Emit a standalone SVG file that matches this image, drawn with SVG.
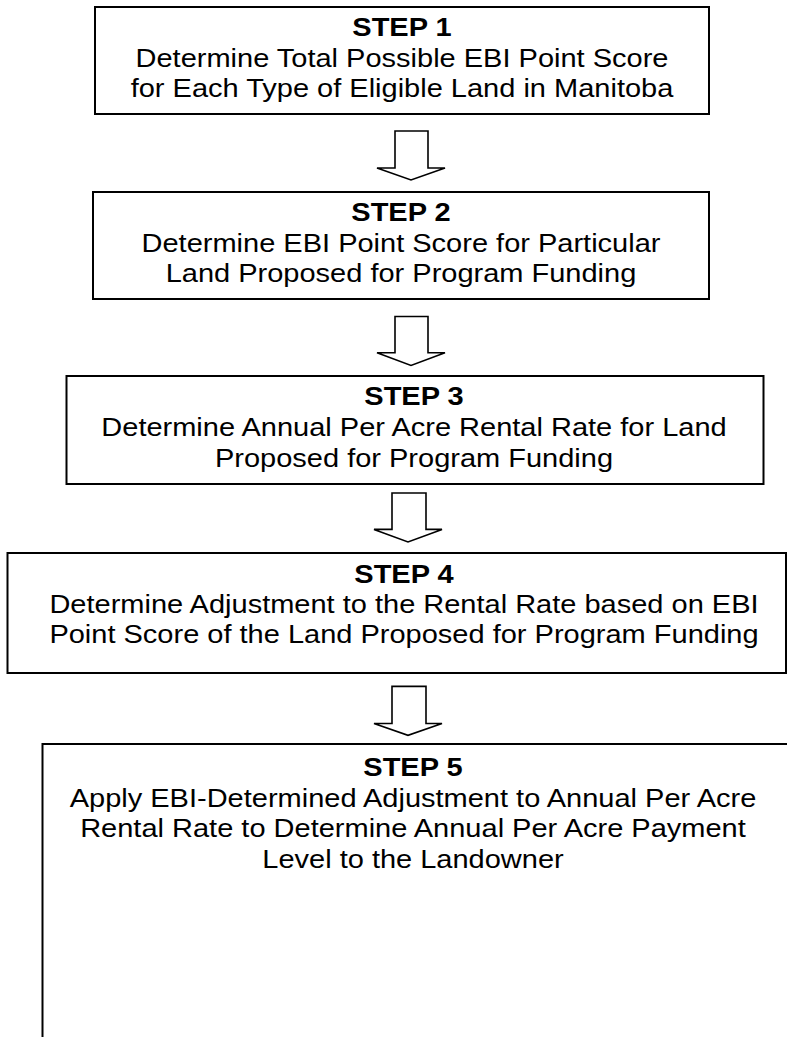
<svg xmlns="http://www.w3.org/2000/svg" width="787" height="1037" viewBox="0 0 787 1037">
<style>
.box{fill:#ffffff;stroke:#000000;stroke-width:2}
.arr{fill:#ffffff;stroke:#000000;stroke-width:1.6;stroke-linejoin:miter}
text{font-family:"Liberation Sans",Arial,sans-serif;font-size:29px;fill:#000000;text-anchor:middle}
.h{font-weight:bold}
</style>
<rect x="0" y="0" width="787" height="1037" fill="#ffffff"/>
<g id="connectors">
<polygon class="arr" points="395,131 428,131 428,168 445,168 411,180 377,168 395,168"/>
<polygon class="arr" points="395,316.5 428,316.5 428,352.8 445,352.8 411,365.5 377,352.8 395,352.8"/>
<polygon class="arr" points="392,493 426,493 426,529.4 442,529.4 408,542 374,529.4 392,529.4"/>
<polygon class="arr" points="392,686.4 426,686.4 426,723.5 442,723.5 408,735.3 374,723.5 392,723.5"/>
</g>
<g id="step1">
<rect class="box" x="95" y="7" width="614" height="107"/>
<g transform="translate(0 66.7) scale(1 0.92) translate(0 -80.67)">
<text class="h" x="402" y="47">STEP 1</text>
<text x="402" y="81">Determine Total Possible EBI Point Score</text>
<text x="402" y="114">for Each Type of Eligible Land in Manitoba</text>
</g>
</g>
<g id="step2">
<rect class="box" x="93" y="192" width="616" height="107"/>
<g transform="translate(0 251.5) scale(1 0.92) translate(0 -293.67)">
<text class="h" x="401" y="260">STEP 2</text>
<text x="401" y="294">Determine EBI Point Score for Particular</text>
<text x="401" y="327">Land Proposed for Program Funding</text>
</g>
</g>
<g id="step3">
<rect class="box" x="66.5" y="376" width="697" height="108"/>
<g transform="translate(0 435.8) scale(1 0.92) translate(0 -505)">
<text class="h" x="414" y="471">STEP 3</text>
<text x="414" y="505">Determine Annual Per Acre Rental Rate for Land</text>
<text x="414" y="539">Proposed for Program Funding</text>
</g>
</g>
<g id="step4">
<rect class="box" x="7.5" y="553" width="778.5" height="120"/>
<g transform="translate(0 613) scale(1 0.92) translate(0 -722)">
<text class="h" x="404" y="689">STEP 4</text>
<text x="404" y="722">Determine Adjustment to the Rental Rate based on EBI</text>
<text x="404" y="755">Point Score of the Land Proposed for Program Funding</text>
</g>
</g>
<g id="step5">
<rect class="box" x="42.5" y="744" width="780" height="320"/>
<g transform="translate(0 822) scale(1 0.92) translate(0 -966.25)">
<text class="h" x="413" y="916">STEP 5</text>
<text x="413" y="950">Apply EBI-Determined Adjustment to Annual Per Acre</text>
<text x="413" y="983">Rental Rate to Determine Annual Per Acre Payment</text>
<text x="413" y="1016">Level to the Landowner</text>
</g>
</g>
</svg>
